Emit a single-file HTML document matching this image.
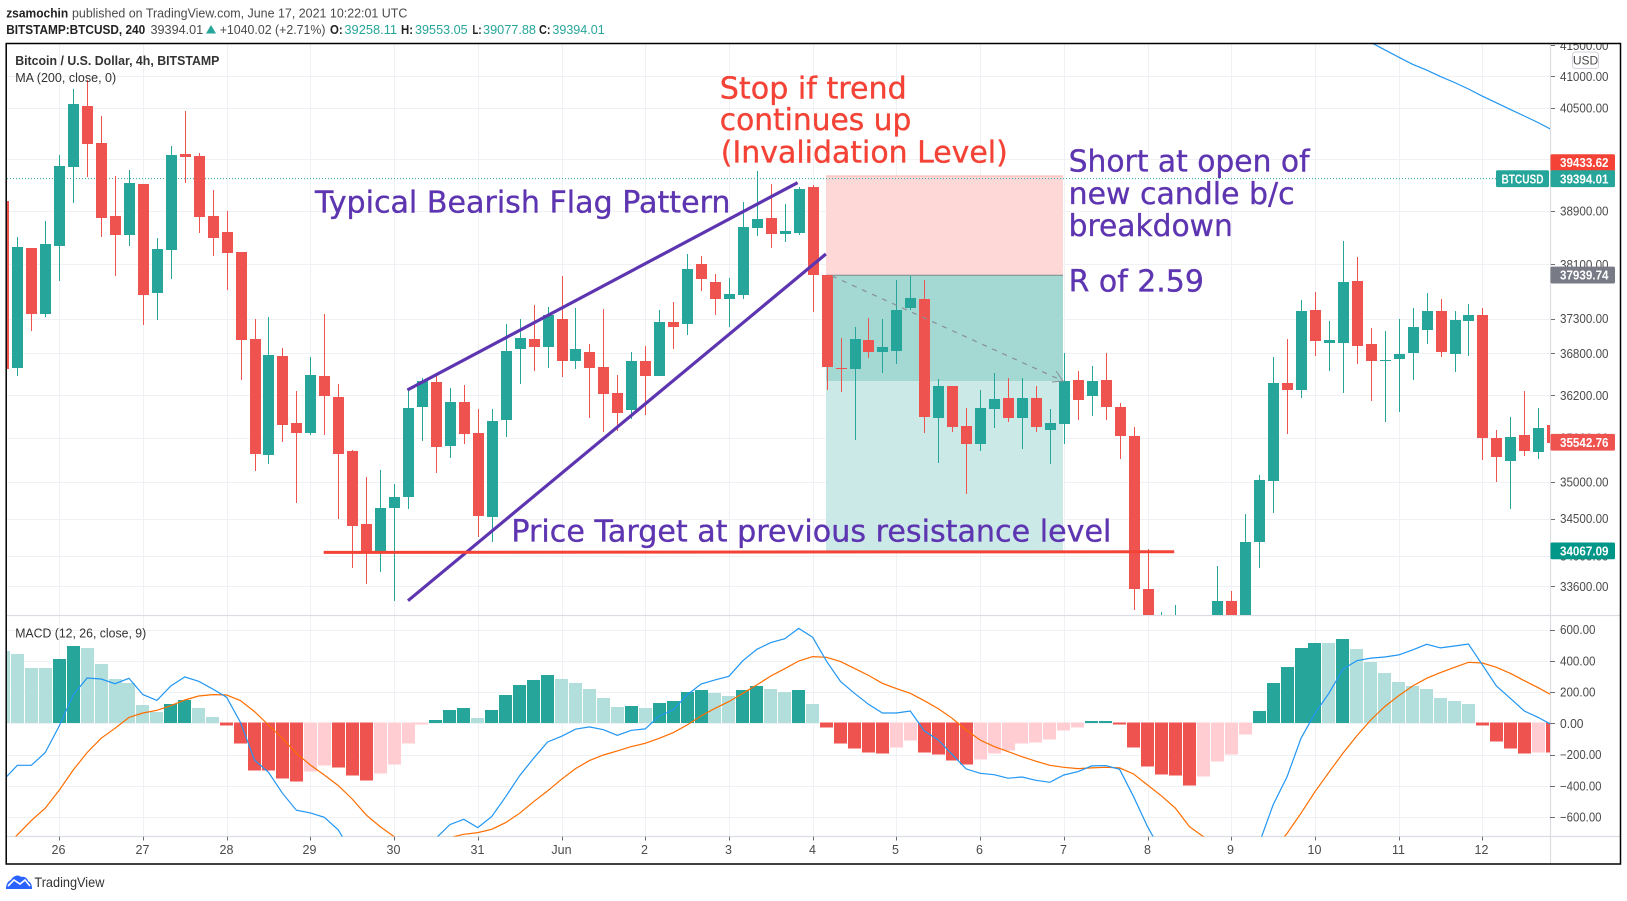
<!DOCTYPE html>
<html lang="en">
<head>
<meta charset="utf-8">
<title>BTCUSD 4h Bearish Flag Chart</title>
<style>
html,body{margin:0;padding:0;background:#fff;}
svg{display:block;font-family:"Liberation Sans",Arial,sans-serif;}
.ann{font-family:"DejaVu Sans","Liberation Sans",sans-serif;font-size:30px;stroke-width:.35px;}
.purple{fill:#5e35b1;stroke:#5e35b1;}
.redt{fill:#f44336;stroke:#f44336;}
.hdr{font-size:13px;fill:#4a4a4a;}
.hb{font-size:13px;fill:#222;font-weight:bold;}
.hv{font-size:13px;fill:#26a69a;}
.axis{font-size:12.5px;fill:#4a4a4a;}
.tag{font-size:12.5px;fill:#fff;font-weight:bold;}
</style>
</head>
<body>
<svg id="chart" xmlns="http://www.w3.org/2000/svg" width="1627" height="901" viewBox="0 0 1627 901">
  <defs>
    <clipPath id="clipMain"><rect x="7" y="44" width="1543" height="571"/></clipPath>
    <clipPath id="clipMacd"><rect x="7" y="616" width="1543" height="220.5"/></clipPath>
    <clipPath id="clipAxis"><rect x="1551" y="44" width="69" height="800"/></clipPath>
  </defs>
  <rect x="0" y="0" width="1627" height="901" fill="#ffffff"/>

  <g>
    <text x="6.2" y="17.3" class="hb" textLength="62" lengthAdjust="spacingAndGlyphs">zsamochin</text>
    <text x="72" y="17.3" class="hdr" textLength="335.4" lengthAdjust="spacingAndGlyphs">published on TradingView.com, June 17, 2021 10:22:01 UTC</text>
    <text x="6.2" y="34" class="hb" textLength="139" lengthAdjust="spacingAndGlyphs">BITSTAMP:BTCUSD, 240</text>
    <text x="150.5" y="34" class="hdr" textLength="52.7" lengthAdjust="spacingAndGlyphs">39394.01</text>
    <polygon points="206,33.5 216,33.5 211,25" fill="#26a69a"/>
    <text x="219.7" y="34" class="hdr" textLength="105.8" lengthAdjust="spacingAndGlyphs">+1040.02 (+2.71%)</text>
    <text x="330" y="34" class="hb" textLength="12.7" lengthAdjust="spacingAndGlyphs">O:</text>
    <text x="344.4" y="34" class="hv" textLength="52.7" lengthAdjust="spacingAndGlyphs">39258.11</text>
    <text x="401" y="34" class="hb" textLength="12" lengthAdjust="spacingAndGlyphs">H:</text>
    <text x="415" y="34" class="hv" textLength="52.7" lengthAdjust="spacingAndGlyphs">39553.05</text>
    <text x="472.5" y="34" class="hb" textLength="9" lengthAdjust="spacingAndGlyphs">L:</text>
    <text x="483" y="34" class="hv" textLength="53" lengthAdjust="spacingAndGlyphs">39077.88</text>
    <text x="539" y="34" class="hb" textLength="11.5" lengthAdjust="spacingAndGlyphs">C:</text>
    <text x="552.4" y="34" class="hv" textLength="52.3" lengthAdjust="spacingAndGlyphs">39394.01</text>
  </g>

  <g id="gridLayer"></g>

  <g>
    <rect x="826" y="176" width="237" height="99.3" fill="#fdd8d7"/>
    <line x1="826" y1="176" x2="1063" y2="176" stroke="#f9b3b0" stroke-width="1"/>
    <rect x="826" y="275.3" width="237" height="105.7" fill="#a3d9d2"/>
    <rect x="826" y="381" width="237" height="170.7" fill="#cbe9e7"/>
    <line x1="826" y1="275.3" x2="1063" y2="275.3" stroke="#7d8a89" stroke-width="1"/>
  </g>

  <g id="priceLine"></g>
  <g id="maLayer" clip-path="url(#clipMain)"></g>
  <g id="candleLayer" clip-path="url(#clipMain)" shape-rendering="crispEdges"></g>
  <g id="histLayer" clip-path="url(#clipMacd)" shape-rendering="crispEdges"></g>
  <g id="macdLines" clip-path="url(#clipMacd)"></g>

  <g>
    <line x1="832" y1="276" x2="1063" y2="381" stroke="#8a8f94" stroke-width="1.2" stroke-dasharray="5 6"/>
    <polyline points="1056,371 1063,381 1052,382" fill="none" stroke="#8a8f94" stroke-width="1"/>
    <line x1="407.4" y1="390" x2="797.6" y2="182.7" stroke="#5e35b1" stroke-width="3.2"/>
    <line x1="408" y1="600.7" x2="825.9" y2="254" stroke="#5e35b1" stroke-width="3.2"/>
    <line x1="323.7" y1="552.4" x2="1174.2" y2="551.7" stroke="#f44336" stroke-width="3"/>
  </g>

  <g>
    <text x="315" y="212.3" class="ann purple" textLength="415.5" lengthAdjust="spacingAndGlyphs">Typical Bearish Flag Pattern</text>
    <text x="719.8" y="98.3" class="ann redt" textLength="187" lengthAdjust="spacingAndGlyphs">Stop if trend</text>
    <text x="719.8" y="130" class="ann redt" textLength="191.5" lengthAdjust="spacingAndGlyphs">continues up</text>
    <text x="720.8" y="162.7" class="ann redt" textLength="287" lengthAdjust="spacingAndGlyphs">(Invalidation Level)</text>
    <text x="1068.6" y="171.7" class="ann purple" textLength="241" lengthAdjust="spacingAndGlyphs">Short at open of</text>
    <text x="1068.6" y="204" class="ann purple" textLength="226" lengthAdjust="spacingAndGlyphs">new candle b/c</text>
    <text x="1068.6" y="236" class="ann purple" textLength="164.2" lengthAdjust="spacingAndGlyphs">breakdown</text>
    <text x="1068.6" y="291.7" class="ann purple" textLength="135.3" lengthAdjust="spacingAndGlyphs">R of 2.59</text>
    <text x="511.4" y="541.7" class="ann purple" textLength="600" lengthAdjust="spacingAndGlyphs">Price Target at previous resistance level</text>
  </g>

  <g>
    <text x="15.2" y="65" font-size="13" font-weight="bold" fill="#333" textLength="204.2" lengthAdjust="spacingAndGlyphs">Bitcoin / U.S. Dollar, 4h, BITSTAMP</text>
    <text x="15.2" y="82" font-size="13" fill="#333" textLength="101" lengthAdjust="spacingAndGlyphs">MA (200, close, 0)</text>
    <text x="15.2" y="637.3" font-size="13" fill="#333" textLength="131" lengthAdjust="spacingAndGlyphs">MACD (12, 26, close, 9)</text>
  </g>

  <g id="axisLayer"></g>
  <g id="tagLayer"></g>

  <g>
    <rect x="1572.5" y="52" width="26" height="16.5" rx="3" fill="#fff" stroke="#d1d4dc"/>
    <text x="1585.5" y="64.5" font-size="12" fill="#4a4a4a" text-anchor="middle">USD</text>
  </g>

  <rect x="6.2" y="43.5" width="1614.3" height="820.5" fill="none" stroke="#000" stroke-width="1.5"/>

  <g>
    <path d="M6 889 C6 884 8 881 11 880 C13 876 18 874 21 877 C25 876 28 879 28 881 C31 882 32 885 32 889 Z" fill="#2962ff"/>
    <polyline points="8,886 14,880 20,884 25,880 30,886" fill="none" stroke="#fff" stroke-width="1.6"/>
    <text x="34.4" y="887" font-size="14" fill="#333" textLength="70" lengthAdjust="spacingAndGlyphs">TradingView</text>
  </g>
</svg>

<script>
const openPrices = [39059,36583,38347,37364,38377,39567,40521,39940,38830,38543,39305,37670,38317,39768,39737,38830,38588,38286,37011,35372,36762,35815,35675,36478,36181,35427,34424,34045,34640,34788,36041,36394,35495,36111,35675,34519,35858,36864,37011,36893,37290,36691,36820,36606,36238,35998,36691,36479,37246,37217,38105,37835,37580,37640,38649,38799,38558,38573,39259,37940,36592,36578,36996,36820,36834,37452,37580,35886,36337,35773,35523,36012,36167,35886,36167,35717,35801,36422,36195,36422,36041,35633,33562,32950,32980,33100,32800,33000,33405,33050,34180,35005,36379,36280,37422,36952,36952,37850,36937,36691,36720,36805,37129,37408,36791,37261,37349,35605,35278,35647,35404,35787];
const highPrices = [39100,38513,38347,38754,39752,40802,40943,40364,39428,39520,39305,38498,39893,40442,39784,39213,38905,38286,37290,37320,36878,36266,36748,37364,36365,35441,35059,35154,34964,36280,36451,36507,36309,36352,36012,36012,37217,37290,37496,37467,37925,37452,36937,37438,36493,36820,36908,37422,37540,38256,38226,37955,37895,39044,39505,39305,39013,39259,39290,37940,37026,37173,37305,37290,37865,37930,37865,36436,36337,36026,36280,36522,36451,36451,36337,36012,36805,36550,36621,36805,36097,35759,34086,33259,33351,33190,33200,33871,33538,34559,35086,36748,37011,37570,37685,37261,38452,38211,37158,37114,37290,37452,37670,37580,37408,37511,37452,35717,35900,36266,36026,35900];
const lowPrices = [36500,36479,37129,37334,37850,39028,39428,38498,37925,38362,37202,37290,37880,39320,38558,38211,37730,36422,35140,35234,35550,34708,35647,35647,34505,33845,33631,33778,33405,34640,35564,35127,35332,35523,34262,34195,35605,36352,36536,36592,36465,36564,35886,35689,35703,35872,35928,36479,36864,37070,37700,37349,37173,37595,38513,38332,38437,38528,37393,36280,36252,35564,36734,36507,36649,37437,35675,35263,35689,34842,35427,35745,35830,35454,35689,35250,35523,35858,35914,35858,35318,33298,32900,32900,32900,32800,32700,32800,32800,32900,33831,34572,35661,36153,36762,36536,36238,36649,36111,35815,35956,36408,36923,36734,36522,36762,35291,35005,34627,35359,35318,35400];
const closePrices = [36569,38362,37364,38407,39582,40553,39925,38800,38543,39320,37640,38332,39752,39721,38814,38498,38271,36996,35386,36776,35787,35675,36493,36195,35386,34397,34045,34640,34788,36026,36408,35482,36111,35661,34532,35844,36834,37026,36893,37349,36691,36864,36592,36224,35956,36691,36479,37246,37173,38030,37880,37590,37655,38664,38784,38558,38603,39228,37940,36606,36578,37011,36820,36893,37422,37595,35900,36337,35759,35523,36026,36153,35886,36167,35759,35815,36408,36139,36408,36041,35633,33562,33000,33150,33180,32900,33100,33405,33050,34180,35018,36379,36280,37408,36981,36996,37835,36908,36691,36706,36791,37173,37408,36820,37276,37349,35605,35345,35619,35427,35745,35536];

const histogramValues = [463,444,354,352,412,495,483,380,284,258,117,73,124,149,98,41,-17,-132,-305,-305,-357,-376,-312,-273,-286,-337,-369,-325,-267,-132,-11,21,85,98,34,85,181,246,278,310,284,258,220,162,105,111,98,130,143,201,214,194,175,214,239,220,201,214,124,-30,-132,-164,-190,-196,-158,-113,-190,-203,-241,-267,-235,-196,-177,-132,-126,-107,-49,-30,15,15,-11,-158,-280,-331,-337,-401,-344,-248,-203,-75,79,258,361,483,515,512,540,476,393,322,265,239,220,162,143,124,-17,-120,-164,-196,-190,-190];
const macdValues = [-363,-269,-269,-188,-17,181,290,284,254,288,184,147,239,297,269,220,167,4,-235,-314,-448,-557,-574,-602,-683,-833,-982,-1089,-1132,-1089,-897,-737,-649,-615,-668,-598,-470,-335,-224,-120,-83,-38,-23,-41,-77,-45,-36,47,85,181,252,278,301,401,474,517,542,608,551,397,267,192,122,66,66,79,-49,-107,-199,-292,-320,-329,-352,-344,-365,-378,-331,-310,-273,-271,-295,-470,-662,-822,-982,-1132,-1196,-1153,-1089,-939,-769,-523,-342,-96,64,192,346,401,418,425,438,470,506,483,495,508,374,239,160,79,38,-11];
const signalValues = [-811,-715,-623,-544,-429,-299,-188,-96,-32,38,66,83,113,149,175,184,181,145,75,-11,-96,-192,-267,-331,-399,-485,-587,-662,-726,-790,-833,-790,-732,-711,-700,-679,-636,-576,-502,-433,-359,-290,-239,-203,-177,-149,-128,-96,-60,-11,47,96,139,192,246,303,350,399,427,423,395,352,307,256,222,192,145,94,32,-43,-107,-149,-181,-214,-243,-269,-282,-290,-286,-282,-286,-325,-395,-465,-544,-662,-726,-833,-918,-939,-897,-811,-705,-576,-438,-314,-192,-81,21,107,177,239,288,325,359,391,386,359,320,273,228,179];

const maStartIndex = 98;
const maValues = [41546,41426,41307,41192,41099,40995,40901,40797,40682,40578,40474,40369,40265,40150];

const priceTicks = [41500,41000,40500,39700,38900,38100,37300,36800,36200,35600,35000,34500,34000,33600];
const macdTicks = [600,400,200,0,-200,-400,-600];
const dayLabels = ["26","27","28","29","30","31","Jun","2","3","4","5","6","7","8","9","10","11","12"];
const lastPrice = 39394.01;
const tagValues = [39433.62,39394.01,37939.74,35542.76,34067.09];
const tagNames = ["stop-price-tag","last-price-tag","entry-price-tag","close-price-tag","target-price-tag"];

function priceY(p){ return 76.3 + 2562 * Math.log(41000 / p); }
function macdY(v){ return 723.3 - v * 0.1561; }
function barX(i){ return 3.39 + i * 13.953; }

const NS = "http://www.w3.org/2000/svg";
function make(tag, parentId, props){
  const el = document.createElementNS(NS, tag);
  for (const k in props) el.setAttribute(k, props[k]);
  document.getElementById(parentId).appendChild(el);
  return el;
}

/* grid and axes */
priceTicks.forEach(function(p){
  const y = Math.round(priceY(p)) + 0.5;
  if (p < 41500) {
    const g = make("line", "gridLayer", {x1:7, x2:1550, y1:y, y2:y, stroke:"#f0f1f4", "stroke-width":1});
    
    
  }
  const t = make("line", "axisLayer", {x1:1550, x2:1555, y1:y, y2:y, stroke:"#6a6d78", "stroke-width":1, "clip-path":"url(#clipAxis)"});
  
  
  const l = make("text", "axisLayer", {x:1560, y:priceY(p) + 4.6, "class":"axis", textLength:48.5, lengthAdjust:"spacingAndGlyphs", "clip-path":"url(#clipAxis)"});
  l.textContent = p.toFixed(2);
  
  
});
macdTicks.forEach(function(v){
  const y = Math.round(macdY(v)) + 0.5;
  const g = make("line", "gridLayer", {x1:7, x2:1550, y1:y, y2:y, stroke:"#f0f1f4", "stroke-width":1});
  
  
  const t = make("line", "axisLayer", {x1:1550, x2:1555, y1:y, y2:y, stroke:"#6a6d78", "stroke-width":1});
  
  
  const str = (v < 0 ? "\u2212" + Math.abs(v).toFixed(2) : v.toFixed(2));
  const w = v === 0 ? 23.5 : (v < 0 ? 41.5 : 35.5);
  const l = make("text", "axisLayer", {x:1560, y:macdY(v) + 4.6, "class":"axis", textLength:w, lengthAdjust:"spacingAndGlyphs"});
  l.textContent = str;
  
  
});
dayLabels.forEach(function(label, k){
  const x = Math.round(barX(4 + k * 6)) + 0.5;
  const g = make("line", "gridLayer", {x1:x, x2:x, y1:44, y2:836.7, stroke:"#f0f1f4", "stroke-width":1});
  
  
  const t = make("line", "axisLayer", {x1:x, x2:x, y1:836.7, y2:840.5, stroke:"#6a6d78", "stroke-width":1});
  
  
  const l = make("text", "axisLayer", {x:x - 1, y:854, "class":"axis", "text-anchor":"middle"});
  l.textContent = label;
  
  
});
[[7,1620,615.5,615.5],[7,1620,836.5,836.5],[1550.5,1550.5,44,864]].forEach(function(c){
  const s = make("line", "gridLayer", {x1:c[0], x2:c[1], y1:c[2], y2:c[3], stroke:"#dcdde2", "stroke-width":1.2});
  
  
});

/* last price dotted line */
const dotted = make("line", "priceLine", {x1:7, x2:1496, y1:priceY(lastPrice), y2:priceY(lastPrice), stroke:"#26a69a", "stroke-width":1, "stroke-dasharray":"1 2"});



/* moving average */
const maPts = maValues.map(function(v, k){ return barX(maStartIndex + k).toFixed(1) + "," + priceY(v).toFixed(1); }).join(" ");
const ma = make("polyline", "maLayer", {points:maPts, fill:"none", stroke:"#2196f3", "stroke-width":1.2});



/* candles */
openPrices.forEach(function(o, i){
  const c = closePrices[i], h = highPrices[i], l = lowPrices[i];
  const up = c >= o;
  const col = up ? "#26a69a" : "#ef5350";
  const cx = barX(i);
  const wick = make("rect", "candleLayer", {x:Math.round(cx), y:Math.round(priceY(h)), width:1, height:Math.max(1, Math.round(priceY(l) - priceY(h))), fill:col});
  
  
  const top = Math.round(priceY(Math.max(o, c)));
  const bot = Math.round(priceY(Math.min(o, c)));
  const body = make("rect", "candleLayer", {x:Math.round(cx - 5), y:top, width:11, height:Math.max(1, bot - top), fill:col});
  
  
});

/* MACD histogram */
histogramValues.forEach(function(v, i){
  const prev = i > 0 ? histogramValues[i - 1] : v + 1;
  let col;
  if (v >= 0) col = v >= prev ? "#26a69a" : "#b2dfdb";
  else col = v <= prev ? "#ef5350" : "#ffcdd2";
  const y0 = Math.round(macdY(0)), y1 = Math.round(macdY(v));
  const bar = make("rect", "histLayer", {x:Math.round(barX(i) - 6.5), y:v >= 0 ? y1 : y0 - 0.5, width:13, height:Math.max(1, Math.abs(y1 - y0)), fill:col});
  
  
});

/* MACD and signal lines */
const signalLine = make("polyline", "macdLines", {points:signalValues.map(function(v, i){ return barX(i).toFixed(1) + "," + macdY(v).toFixed(1); }).join(" "), fill:"none", stroke:"#ff6d00", "stroke-width":1.2});


const macdLine = make("polyline", "macdLines", {points:macdValues.map(function(v, i){ return barX(i).toFixed(1) + "," + macdY(v).toFixed(1); }).join(" "), fill:"none", stroke:"#2196f3", "stroke-width":1.2});



/* price tags */
const tagFills = ["#f44336","#26a69a","#787b86","#ef5350","#009688"];
const tagShift = [-13.5,0,0,0,0];
tagValues.forEach(function(v, k){
  const y = priceY(v) + tagShift[k];
  const r = make("rect", "tagLayer", {x:1550.5, y:y - 8.4, width:64.5, height:16.8, rx:1.5, fill:tagFills[k]});
  
  
  const t = make("text", "tagLayer", {x:1560, y:y + 4.6, "class":"tag", textLength:48.5, lengthAdjust:"spacingAndGlyphs"});
  t.textContent = v.toFixed(2);
  
  
});
const symY = priceY(lastPrice);
const symBox = make("rect", "tagLayer", {x:1496, y:symY - 8.4, width:53, height:16.8, rx:1.5, fill:"#26a69a"});


const symText = make("text", "tagLayer", {x:1501.5, y:symY + 4.6, "class":"tag", textLength:42, lengthAdjust:"spacingAndGlyphs"});
symText.textContent = "BTCUSD";


</script>
</body>
</html>
